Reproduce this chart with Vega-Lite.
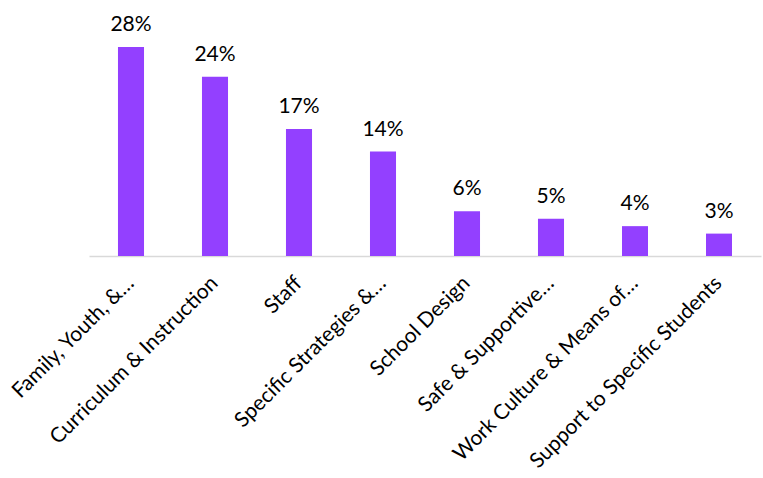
{
  "$schema": "https://vega.github.io/schema/vega-lite/v6.json",
  "autosize": "none",
  "width": 672,
  "height": 209,
  "padding": {"left": 89, "top": 47, "right": 2, "bottom": 222},
  "config": {"view": {"stroke": null}, "font": "Lato"},
  "data": {"values": [
    {"cat": "Family, Youth, &…", "v": 28, "label": "28%"},
    {"cat": "Curriculum & Instruction", "v": 24, "label": "24%"},
    {"cat": "Staff", "v": 17, "label": "17%"},
    {"cat": "Specific Strategies &…", "v": 14, "label": "14%"},
    {"cat": "School Design", "v": 6, "label": "6%"},
    {"cat": "Safe & Supportive…", "v": 5, "label": "5%"},
    {"cat": "Work Culture & Means of…", "v": 4, "label": "4%"},
    {"cat": "Support to Specific Students", "v": 3, "label": "3%"}
  ]},
  "encoding": {
    "x": {"field": "cat", "type": "nominal", "sort": null,
      "scale": {"paddingInner": 0.69, "paddingOuter": 0.345},
      "axis": {"title": null, "labelAngle": -45, "labelFontSize": 21, "labelColor": "#000000",
        "ticks": false, "domainColor": "#d9d9d9", "domainWidth": 1.5, "labelPadding": 16, "labelOffset": -8, "labelLimit": 400}},
    "y": {"field": "v", "type": "quantitative", "scale": {"domain": [0, 28], "nice": false}, "axis": null}
  },
  "layer": [
    {"mark": {"type": "bar", "color": "#9340FF"}},
    {"mark": {"type": "text", "baseline": "alphabetic", "dy": -16, "fontSize": 21, "color": "#000000"},
     "encoding": {"text": {"field": "label"}}}
  ]
}
